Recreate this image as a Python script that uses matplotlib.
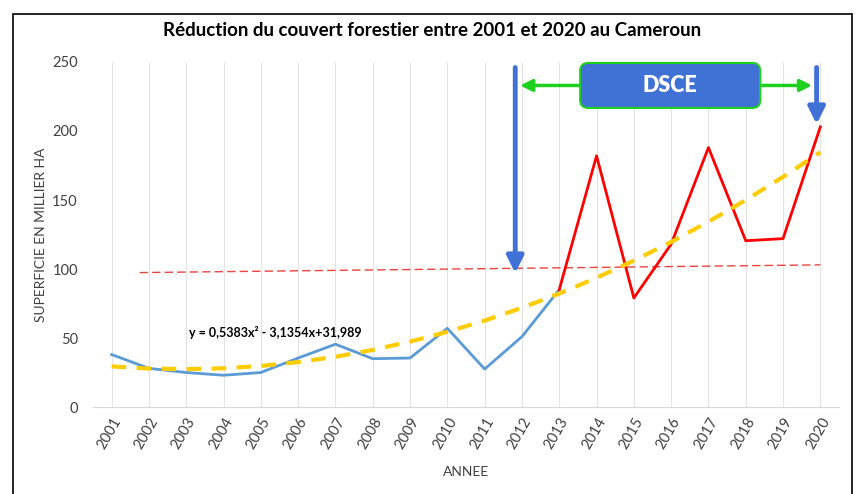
import numpy as np
import matplotlib
matplotlib.use("Agg")
import matplotlib.pyplot as plt
from matplotlib.patches import FancyBboxPatch, Rectangle
from matplotlib.transforms import IdentityTransform

plt.rcParams["font.family"] = ["Lato", "DejaVu Sans"]

## data (thousand ha lost per year)
years = list(range(2001, 2021))
loss_before = [38, 28, 25, 23, 25, 35.5, 45.5, 35, 35.5, 57, 27.5, 51, 85]   # 2001-2013
loss_dsce = [85, 182, 79, 118, 188, 120.5, 122, 203]                          # 2013-2020
years_before = years[:13]
years_dsce = years[12:]

# polynomial trend as printed on the chart (x = 1..20)
poly_coefs = [0.5383, -3.1354, 31.989]
# thin linear trend (start / end)
lin_x = [2001.75, 2020]
lin_y = [97.4, 103]

title = "Réduction du couvert forestier entre 2001 et 2020 au Cameroun"
eq_label = "y = 0,5383x² - 3,1354x+31,989"

fig = plt.figure(figsize=(8.59, 4.94), dpi=100)
ax = fig.add_axes([0.1083, 0.1761, 0.8684, 0.6984])
ax.set_xlim(2000.5, 2020.5)
ax.set_ylim(0, 250)

## vertical gridlines only
for yr in years:
    ax.axvline(yr, color="#e3e3e3", lw=0.8, zorder=0)

ax.plot(lin_x, lin_y, color="#e8453c", lw=1.0, ls=(0, (6, 3)), zorder=2)
ax.plot(years_before, loss_before, color="#5b9bd5", lw=2.0, zorder=3)
ax.plot(years_dsce, loss_dsce, color="#ff0000", lw=2.0, zorder=3)

xi = np.arange(1, len(years) + 1)
ax.plot(years, np.polyval(poly_coefs, xi), color="#ffcc00", lw=3.0,
        ls=(0, (3.5, 2.5)), zorder=4)

ax.text(2005.4, 54, eq_label, fontsize=9, fontweight="bold",
        ha="center", va="center", color="black", zorder=5)

## DSCE period arrows
blue = "#3f72d4"
ax.annotate("", xy=(2011.82, 97), xytext=(2011.82, 246),
            arrowprops=dict(arrowstyle="-|>,head_width=0.5,head_length=1.0",
                            lw=3.5, color=blue, shrinkA=0, shrinkB=0),
            zorder=6)
ax.annotate("", xy=(2019.9, 205), xytext=(2019.9, 246),
            arrowprops=dict(arrowstyle="-|>,head_width=0.5,head_length=1.0",
                            lw=3.5, color=blue, shrinkA=0, shrinkB=0),
            zorder=6)
ax.annotate("", xy=(2011.95, 233), xytext=(2019.78, 233),
            arrowprops=dict(arrowstyle="<|-|>,head_width=0.35,head_length=0.7",
                            lw=2.5, color="#1fd11f", shrinkA=0, shrinkB=0),
            zorder=6)

# box drawn in pixels so the corners stay round
(x0, y0), (x1, y1) = ax.transData.transform([(2013.56, 216.7), (2018.39, 249.3)])
box = FancyBboxPatch((x0, y0), x1 - x0, y1 - y0,
                     boxstyle="round,pad=0,rounding_size=8",
                     fc=blue, ec="#1fd11f", lw=1.5, clip_on=False,
                     transform=IdentityTransform(), zorder=7)
fig.patches.append(box)
fig.text((x0 + x1) / 2 / fig.bbox.width, (y0 + y1) / 2 / fig.bbox.height,
         "DSCE", color="white", fontsize=15.5, fontweight="heavy",
         ha="center", va="center", zorder=8)

## axes styling
ax.set_xticks(years)
ax.set_xticklabels([str(y) for y in years], rotation=60, ha="right",
                   rotation_mode="anchor")
ax.set_yticks([0, 50, 100, 150, 200, 250])
ax.tick_params(axis="both", length=0, labelsize=10.5, colors="#404040")
ax.tick_params(axis="y", pad=11)
ax.tick_params(axis="x", pad=6)
for side in ["top", "right", "left"]:
    ax.spines[side].set_visible(False)
ax.spines["bottom"].set_color("#d9d9d9")

ax.set_xlabel("ANNEE", fontsize=10, color="#404040", labelpad=10)
ax.set_ylabel("SUPERFICIE EN MILLIER HA", fontsize=10, color="#404040",
              labelpad=4)

fig.text(0.503, 0.938, title, ha="center", va="center", fontsize=13.5,
         fontweight="bold", color="black")

## outer frame
fig.patches.append(Rectangle((0.0151, -0.05), 0.9767, 1.0217, fill=False,
                             ec="black", lw=1.2, transform=fig.transFigure))

plt.savefig("out.png", dpi=100)
